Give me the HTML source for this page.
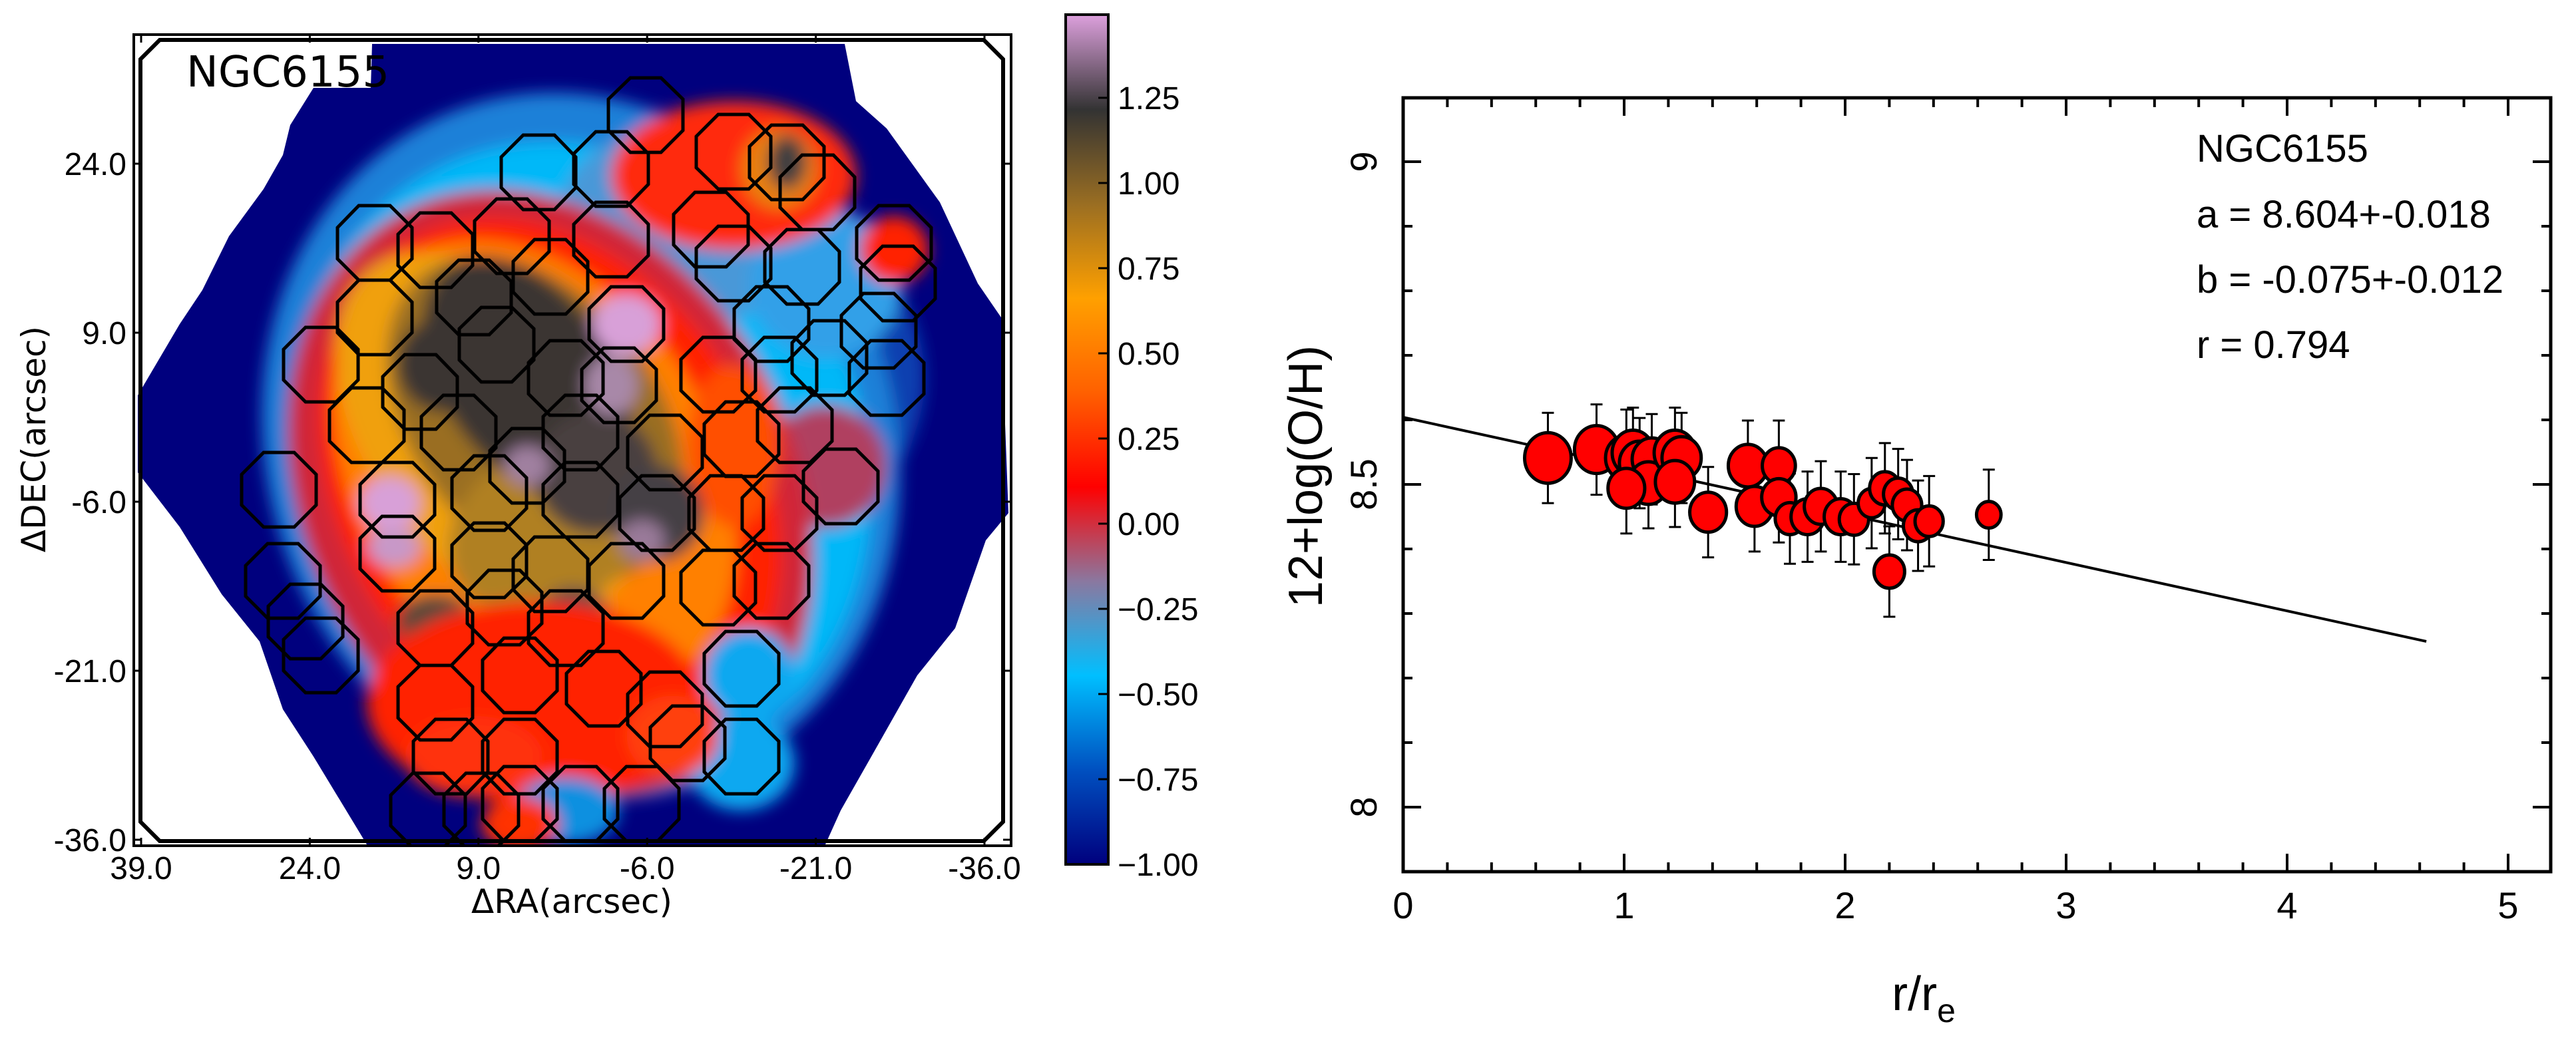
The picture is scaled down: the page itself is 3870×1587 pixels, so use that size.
<!DOCTYPE html>
<html><head><meta charset="utf-8"><title>NGC6155</title>
<style>
html,body{margin:0;padding:0;background:#fff;}
svg{display:block;}
text{font-family:"Liberation Sans","DejaVu Sans",sans-serif;}
.dj{font-family:"DejaVu Sans","Liberation Sans",sans-serif;}
</style></head>
<body>
<svg id="fig" width="3870" height="1587" viewBox="0 0 3870 1587" xmlns="http://www.w3.org/2000/svg">
<defs>
  <linearGradient id="cmap" x1="0" y1="1" x2="0" y2="0">
    <stop offset="0" stop-color="#00007e"/>
    <stop offset="0.111" stop-color="#0050c0"/>
    <stop offset="0.222" stop-color="#00bfff"/>
    <stop offset="0.333" stop-color="#8a78a0"/>
    <stop offset="0.444" stop-color="#ff0000"/>
    <stop offset="0.555" stop-color="#ff6000"/>
    <stop offset="0.666" stop-color="#ffa000"/>
    <stop offset="0.777" stop-color="#9a6e22"/>
    <stop offset="0.888" stop-color="#333333"/>
    <stop offset="1" stop-color="#dda0dd"/>
  </linearGradient>
  <clipPath id="galclip"><polygon id="galpolyclip" points=""/></clipPath>
  <clipPath id="frameclip"><rect x="201" y="52" width="1318" height="1219"/></clipPath>
  <filter id="soft" x="-10%" y="-10%" width="120%" height="120%"><feGaussianBlur stdDeviation="12"/></filter>
</defs>

<!-- LEFT MAP -->
<g id="map" clip-path="url(#frameclip)">
  <polygon id="galpoly" fill="#00007e" points=""/>
  <g clip-path="url(#galclip)">
    <g id="blobs" filter="url(#soft)"></g>
  </g>
  <g id="octs"></g>
</g>
<g fill="none" stroke="#000">
  <rect x="201" y="52" width="1318" height="1219" stroke-width="4"/>
  <polygon points="240,60 1478,60 1507,89 1507,1235 1478,1264 240,1264 211,1235 211,89" stroke-width="6"/>
</g>
<text class="dj" x="280" y="130" font-size="64">NGC6155</text>
<g id="mapticks" class="dj" font-size="48"></g>
<text class="dj" x="859" y="1372" font-size="50" text-anchor="middle">ΔRA(arcsec)</text>
<text class="dj" transform="translate(68,660) rotate(-90)" font-size="50" text-anchor="middle">ΔDEC(arcsec)</text>

<!-- COLORBAR -->
<rect x="1601" y="22" width="64" height="1277" fill="url(#cmap)" stroke="#000" stroke-width="4"/>
<g id="cbticks" class="dj" font-size="48"></g>

<!-- RIGHT SCATTER -->
<g id="scatter">
  <rect x="2108" y="147" width="1724" height="1163" fill="none" stroke="#000" stroke-width="5"/>
  <g id="sticks"></g>
  <g id="fitline"></g>
  <g id="errs"></g>
  <g id="pts"></g>
  <text x="3300" y="243" font-size="58">NGC6155</text>
  <text x="3300" y="342" font-size="58">a = 8.604+-0.018</text>
  <text x="3300" y="440" font-size="58">b = -0.075+-0.012</text>
  <text x="3300" y="538" font-size="58">r = 0.794</text>
  <text transform="translate(1986,716) rotate(-90)" font-size="72" text-anchor="middle">12+log(O/H)</text>
  <text x="2890" y="1518" font-size="72" text-anchor="middle">r/r<tspan font-size="50" dy="18">e</tspan></text>
</g>
</svg>
<script>
// ---- scatter data ----
const rr   = [0.655,0.875,1.01,1.04,1.07,1.125,1.11,1.01,1.23,1.26,1.23,1.38,1.56,1.70,1.59,1.70,1.75,1.83,1.89,1.98,2.04,2.12,2.18,2.24,2.20,2.28,2.33,2.38,2.65];
const oh   = [8.541,8.554,8.541,8.549,8.533,8.539,8.502,8.494,8.549,8.541,8.504,8.457,8.529,8.529,8.466,8.480,8.447,8.450,8.466,8.450,8.446,8.471,8.494,8.485,8.365,8.468,8.436,8.443,8.453];
const ohErr= [0.07,0.07,0.075,0.07,0.07,0.07,0.07,0.07,0.07,0.07,0.07,0.07,0.07,0.07,0.07,0.07,0.07,0.07,0.07,0.07,0.07,0.07,0.07,0.07,0.07,0.07,0.07,0.07,0.07];
const msize= [38,36,34,34,33,32,32,30,34,32,32,30,32,27,30,28,24,27,27,27,24,22,25,24,25,24,24,23,20];
const xTicks = [0,1,2,3,4,5];
const yTicks = [8,8.5,9];
const fitA = 8.604, fitB = -0.075, fitXmax = 4.63;
const cbVals = [1.25,1.00,0.75,0.50,0.25,0.00,-0.25,-0.50,-0.75,-1.00];
const mapXLabels = [39.0,24.0,9.0,-6.0,-21.0,-36.0];
const mapYLabels = [24.0,9.0,-6.0,-21.0,-36.0];

const NS='http://www.w3.org/2000/svg';
function mk(tag,attrs,parent){const e=document.createElementNS(NS,tag);for(const k in attrs)e.setAttribute(k,attrs[k]);if(parent)parent.appendChild(e);return e;}
const X = v => 2108 + v*332;
const Y = v => 243 + (9 - v)*970;
const BOT = 1310, TOP = 147;

// scatter ticks
const st=document.getElementById('sticks');
for(let i=1;i<26;i++){const v=i*0.2;const x=X(v);const L=(i%5===0)?27:14;
  mk('line',{x1:x,y1:BOT,x2:x,y2:BOT-L,stroke:'#000','stroke-width':4},st);
  mk('line',{x1:x,y1:TOP,x2:x,y2:TOP+L,stroke:'#000','stroke-width':4},st);}
for(let v=7.9;v<=9.1;v+=0.1){const y=Y(v);if(y<TOP+3||y>BOT-3)continue;const maj=Math.abs(v*2-Math.round(v*2))<1e-6;const L=maj?27:14;
  mk('line',{x1:2108,y1:y,x2:2108+L,y2:y,stroke:'#000','stroke-width':4},st);
  mk('line',{x1:3832,y1:y,x2:3832-L,y2:y,stroke:'#000','stroke-width':4},st);}
xTicks.forEach(v=>{const t=mk('text',{x:X(v),y:1380,'font-size':56,'text-anchor':'middle'},st);t.textContent=v;
  
  });
yTicks.forEach(v=>{const t=mk('text',{transform:`translate(2068,${Y(v)}) rotate(-90)`,'font-size':56,'text-anchor':'middle'},st);t.textContent=String(v);
  
  });

// fit line
const fl=mk('line',{x1:X(0),y1:Y(fitA),x2:X(fitXmax),y2:Y(fitA+fitB*fitXmax),stroke:'#000','stroke-width':4},document.getElementById('fitline'));



// error bars + points
const eg=document.getElementById('errs'), pg=document.getElementById('pts');
rr.forEach((r,i)=>{const x=X(r),y1=Y(oh[i]+ohErr[i]),y2=Y(oh[i]-ohErr[i]);
  const g=mk('g',{},eg);
  
  
  mk('line',{x1:x,y1:y1,x2:x,y2:y2,stroke:'#000','stroke-width':3},g);
  mk('line',{x1:x-9,y1:y1,x2:x+9,y2:y1,stroke:'#000','stroke-width':3},g);
  mk('line',{x1:x-9,y1:y2,x2:x+9,y2:y2,stroke:'#000','stroke-width':3},g);});
rr.forEach((r,i)=>{const c=mk('ellipse',{cx:X(r),cy:Y(oh[i]),rx:msize[i]*0.92,ry:msize[i],fill:'#ff0000',stroke:'#000','stroke-width':5},pg);
  
  });

// colorbar ticks
const cb=document.getElementById('cbticks');
cbVals.forEach(v=>{const y=1299-(v+1)*512;
  mk('line',{x1:1665,y1:y,x2:1650,y2:y,stroke:'#000','stroke-width':3},cb);
  const t=mk('text',{x:1679,y:y+17},cb);t.textContent=(v<0?'\u2212':'')+Math.abs(v).toFixed(2);
  
  });

// map ticks
const mt=document.getElementById('mapticks');
mapXLabels.forEach((v,i)=>{const x=212+i*253.4;const t=mk('text',{x:x,y:1321,'text-anchor':'middle'},mt);t.textContent=v.toFixed(1);
  
  
  mk('line',{x1:x,y1:1271,x2:x,y2:1259,stroke:'#000','stroke-width':3},mt);mk('line',{x1:x,y1:52,x2:x,y2:64,stroke:'#000','stroke-width':3},mt);});
mapYLabels.forEach((v,i)=>{const y=246+i*254;const t=mk('text',{x:190,y:y+17,'text-anchor':'end'},mt);t.textContent=v.toFixed(1);
  
  
  mk('line',{x1:201,y1:y,x2:213,y2:y,stroke:'#000','stroke-width':3},mt);mk('line',{x1:1519,y1:y,x2:1507,y2:y,stroke:'#000','stroke-width':3},mt);});

// map geometry (image shapes, measured units -> px)
const sx=1.148, sy=1.015;
const poly=[[487,65],[1105,65],[1120,150],[1160,190],[1230,300],[1280,420],[1310,470],[1320,760],[1290,800],[1250,930],[1200,1000],[1140,1120],[1100,1200],[1080,1250],[480,1250],[410,1120],[370,1050],[340,950],[290,880],[235,780],[180,700],[180,585],[235,480],[265,430],[300,350],[345,280],[370,230],[380,185],[410,130],[485,130]];
const pstr=poly.map(p=>(p[0]*sx).toFixed(0)+','+(p[1]*sy).toFixed(0)).join(' ');
document.getElementById('galpoly').setAttribute('points',pstr);
document.getElementById('galpolyclip').setAttribute('points',pstr);
const bl=document.getElementById('blobs');
// [cx,cy,rx,ry,rot,color]
const shapes=[
 [1060,560,150,200,0,'#0a40b0'],
 [760,660,410,530,-20,'#1a80d8'],
 [760,680,370,480,-25,'#00b8f8'],
 [900,330,170,150,0,'#4a98d8'],
 [1080,420,100,110,0,'#30a0e8'],
 [1080,690,80,90,0,'#b04060'],
 [720,730,320,470,-28,'#d02838'],
 [960,260,160,110,0,'#ff2a10'],
 [720,720,275,420,-30,'#ff2000'],
 [700,700,235,370,-32,'#ff8000'],
 [640,640,160,300,-35,'#f0a010'],
 [960,660,60,120,0,'#ff5000'],
 [1020,250,50,60,0,'#e88010'],
 [1030,240,25,40,0,'#404040'],
 [700,620,160,270,-38,'#9a6e22'],
 [720,780,140,120,-30,'#b08020'],
 [690,560,110,200,-35,'#3a3432'],
 [780,700,80,90,0,'#4a4040'],
 [580,540,60,70,0,'#3a3432'],
 [860,760,60,70,0,'#454045'],
 [570,920,50,40,0,'#5a4a3a'],
 [750,920,50,50,0,'#5a4a4a'],
 [820,480,45,45,0,'#d8a0d8'],
 [510,745,40,40,0,'#d8a0d8'],
 [515,810,35,30,0,'#c898c8'],
 [800,570,35,45,0,'#a888a8'],
 [690,690,30,30,0,'#a080a0'],
 [840,800,30,30,0,'#9a7a9a'],
 [700,1040,220,150,0,'#ff2000'],
 [620,1120,90,60,0,'#ff3010'],
 [980,1000,60,70,0,'#10a8f0'],
 [970,1130,70,70,0,'#10a8f0'],
 [740,1200,70,50,0,'#1090e0'],
 [880,1090,60,60,0,'#ff4010'],
 [680,1220,50,40,0,'#ff3000'],
 [1170,370,45,50,0,'#ff2000']
];
shapes.forEach(a=>{const cx=a[0]*sx,cy=a[1]*sy;mk('ellipse',{cx:cx,cy:cy,rx:a[2]*sx,ry:a[3]*sy,fill:a[5],transform:`rotate(${a[4]} ${cx} ${cy})`},bl);});

// octagon outlines
const oc=[[845,170],[705,255],[800,250],[960,225],[1030,240],[1070,285],[490,360],[570,370],[670,350],[800,355],[930,340],[1050,395],[1170,360],[1175,420],
[490,470],[620,440],[720,410],[820,480],[960,390],[1010,480],[1085,530],[1150,490],
[420,540],[550,580],[650,510],[740,560],[810,570],[940,555],[1020,555],[1160,560],
[480,630],[600,640],[690,690],[760,640],[870,670],[970,650],[1040,630],[1100,720],
[365,725],[520,740],[640,730],[760,740],[860,760],[950,760],[1020,760],
[370,860],[520,820],[640,830],[720,850],[820,860],[940,870],[1010,860],
[400,920],[420,970],[570,930],[660,900],[740,930],
[570,1040],[680,1000],[790,1020],[870,1050],[970,990],
[590,1120],[680,1120],[900,1100],[970,1120],
[560,1200],[630,1200],[680,1190],[760,1190],[840,1190]];
const og=document.getElementById('octs');
oc.forEach(c=>{const cx=c[0]*sx,cy=c[1]*sy,R=56,k=R*0.414;
  const pts=[[cx-k,cy-R],[cx+k,cy-R],[cx+R,cy-k],[cx+R,cy+k],[cx+k,cy+R],[cx-k,cy+R],[cx-R,cy+k],[cx-R,cy-k]].map(p=>p[0].toFixed(0)+','+p[1].toFixed(0)).join(' ');
  const p=mk('polygon',{points:pts,fill:'none',stroke:'#000','stroke-width':5},og);
  
  });
</script>
</body></html>
